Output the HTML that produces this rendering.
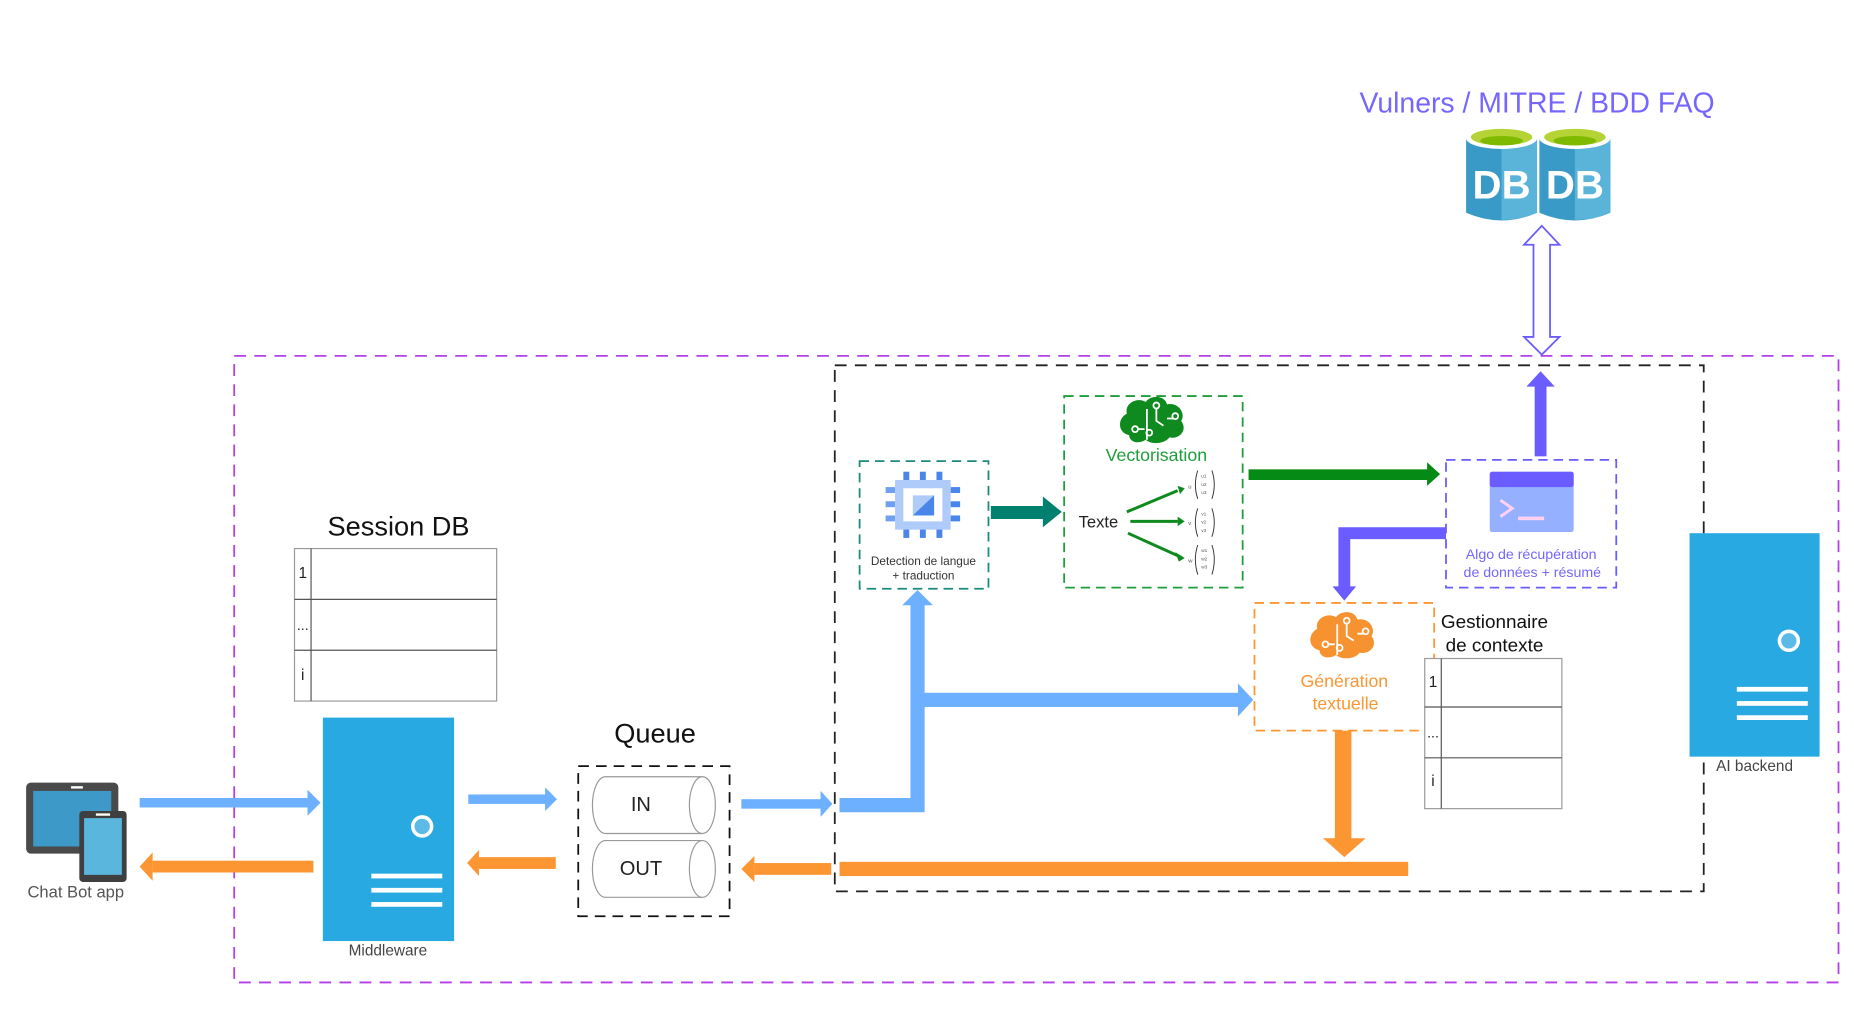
<!DOCTYPE html>
<html><head><meta charset="utf-8"><style>
html,body{margin:0;padding:0;background:#fff;width:1854px;height:1012px;overflow:hidden}
svg{display:block}
text{font-family:"Liberation Sans",sans-serif}
</style></head><body>
<svg width="1854" height="1012" viewBox="0 0 1568 856" xmlns="http://www.w3.org/2000/svg">
<defs>
<g id="brain">
 <path d="M-20,10 C-30,8 -30,-4 -22,-8 C-24,-18 -12,-22 -6,-18 C-2,-24 10,-24 12,-16 C22,-18 28,-8 24,-2 C30,6 22,14 14,12 C10,18 -2,18 -6,14 C-12,18 -20,16 -20,10Z"/>
</g>
</defs>
<!-- outer purple dashed -->
<rect x="198" y="301" width="1357" height="530" fill="none" stroke="#b23fe8" stroke-width="1.5" stroke-dasharray="10,7"/>
<!-- black dashed -->
<rect x="706" y="309" width="735" height="445" fill="none" stroke="#222" stroke-width="1.5" stroke-dasharray="10,7"/>

<!-- title -->
<text x="1300" y="95" font-size="24" fill="#7466ff" text-anchor="middle">Vulners / MITRE / BDD FAQ</text>
<!-- DBs -->
<g>
 <path d="M1240,117 L1240,180 Q1270,193 1300,180 L1300,117Z" fill="#3a9ac7"/>
 <path d="M1270,122 L1270,186 Q1286,186 1300,180 L1300,117Z" fill="#5ab4da"/>
 <ellipse cx="1270" cy="117" rx="30" ry="9" fill="#fff"/>
 <ellipse cx="1270" cy="116" rx="26" ry="7" fill="#b5d334"/>
 <ellipse cx="1270" cy="119" rx="18" ry="4" fill="#7fba00"/>
 <text x="1270" y="168" font-size="34" font-weight="bold" fill="#fff" text-anchor="middle">DB</text>
 <path d="M1302,117 L1302,180 Q1332,193 1362,180 L1362,117Z" fill="#3a9ac7"/>
 <path d="M1332,122 L1332,186 Q1348,186 1362,180 L1362,117Z" fill="#5ab4da"/>
 <ellipse cx="1332" cy="117" rx="30" ry="9" fill="#fff"/>
 <ellipse cx="1332" cy="116" rx="26" ry="7" fill="#b5d334"/>
 <ellipse cx="1332" cy="119" rx="18" ry="4" fill="#7fba00"/>
 <text x="1332" y="168" font-size="34" font-weight="bold" fill="#fff" text-anchor="middle">DB</text>
</g>
<!-- hollow double arrow -->
<path d="M1304,191 L1319,207 L1311,207 L1311,285 L1319,285 L1304,300 L1289,285 L1297,285 L1297,207 L1289,207Z" fill="#fff" stroke="#6a5cff" stroke-width="1.5"/>
<!-- purple up arrow -->
<rect x="1298" y="326" width="10" height="60" fill="#6a5cff"/>
<path d="M1291,327 L1303,314 L1315,327Z" fill="#6a5cff"/>

<!-- Session DB -->
<text x="337" y="453" font-size="23" fill="#111" text-anchor="middle">Session DB</text>
<rect x="249" y="464" width="171" height="129" fill="#fff" stroke="#999" stroke-width="1"/>
<line x1="249" y1="507" x2="420" y2="507" stroke="#555"/>
<line x1="249" y1="550" x2="420" y2="550" stroke="#555"/>
<line x1="263" y1="464" x2="263" y2="593" stroke="#555"/>
<text x="256" y="489" font-size="13" fill="#222" text-anchor="middle">1</text>
<text x="256" y="533" font-size="12" fill="#222" text-anchor="middle">...</text>
<text x="256" y="575" font-size="13" fill="#222" text-anchor="middle">i</text>

<!-- Middleware -->
<rect x="273" y="607" width="111" height="189" fill="#29a9e1"/>
<circle cx="357" cy="699" r="8" fill="#5bbbe6" stroke="#fff" stroke-width="3"/>
<rect x="314" y="739" width="60" height="4" fill="#fff"/>
<rect x="314" y="751" width="60" height="4" fill="#fff"/>
<rect x="314" y="763" width="60" height="4" fill="#fff"/>
<text x="328" y="808" font-size="13" fill="#444" text-anchor="middle">Middleware</text>

<!-- AI backend -->
<rect x="1429" y="451" width="110" height="189" fill="#29a9e1"/>
<circle cx="1513" cy="542" r="8" fill="#5bbbe6" stroke="#fff" stroke-width="3"/>
<rect x="1469" y="581" width="60" height="4" fill="#fff"/>
<rect x="1469" y="593" width="60" height="4" fill="#fff"/>
<rect x="1469" y="605" width="60" height="4" fill="#fff"/>
<text x="1484" y="652" font-size="13" fill="#444" text-anchor="middle">AI backend</text>

<!-- Chat bot device -->
<rect x="22" y="662" width="78" height="60" rx="4" fill="#4a4a4a"/>
<rect x="28" y="669" width="66" height="47" fill="#3d9ac8"/>
<rect x="60" y="665" width="10" height="2" fill="#fff"/>
<rect x="67" y="686" width="40" height="60" rx="3" fill="#3f3f3f"/>
<rect x="71" y="692" width="32" height="48" fill="#5ab6dc"/>
<rect x="81" y="688" width="12" height="2" fill="#fff"/>
<text x="64" y="759" font-size="14" fill="#555" text-anchor="middle">Chat Bot app</text>

<!-- arrows left -->
<rect x="118" y="675" width="144" height="8" fill="#6cb0ff"/>
<path d="M260,668 L271,679 L260,690Z" fill="#6cb0ff"/>
<rect x="129" y="728" width="136" height="10" fill="#fb9633"/>
<path d="M129,721 L118,733 L129,745Z" fill="#fb9633"/>
<rect x="396" y="672" width="66" height="8" fill="#6cb0ff"/>
<path d="M461,666 L471,676 L461,686Z" fill="#6cb0ff"/>
<rect x="404" y="725" width="66" height="10" fill="#fb9633"/>
<path d="M405,719 L395,730 L405,741Z" fill="#fb9633"/>

<!-- Queue -->
<text x="554" y="628" font-size="23" fill="#111" text-anchor="middle">Queue</text>
<rect x="489" y="648" width="128" height="127" fill="none" stroke="#111" stroke-width="1.5" stroke-dasharray="9,6"/>
<path d="M594,657 L512,657 A11,24 0 0 0 512,705 L594,705" fill="#fff" stroke="#999"/>
<ellipse cx="594" cy="681" rx="11" ry="24" fill="#fff" stroke="#999"/>
<text x="542" y="686" font-size="17" fill="#222" text-anchor="middle">IN</text>
<path d="M594,711 L512,711 A11,24 0 0 0 512,759 L594,759" fill="#fff" stroke="#999"/>
<ellipse cx="594" cy="735" rx="11" ry="24" fill="#fff" stroke="#999"/>
<text x="542" y="740" font-size="17" fill="#222" text-anchor="middle">OUT</text>

<rect x="627" y="676" width="68" height="8" fill="#6cb0ff"/>
<path d="M694,669 L704,680 L694,691Z" fill="#6cb0ff"/>
<rect x="638" y="730" width="65" height="10" fill="#fb9633"/>
<path d="M638,724 L627,735 L638,746Z" fill="#fb9633"/>

<!-- blue thick path -->
<path d="M710,681 L776,681 L776,510" fill="none" stroke="#6cb0ff" stroke-width="12"/>
<path d="M763,512 L776,499 L789,512Z" fill="#6cb0ff"/>
<rect x="776" y="586" width="272" height="12" fill="#6cb0ff"/>
<path d="M1047,578 L1060,592 L1047,606Z" fill="#6cb0ff"/>

<!-- orange bar -->
<rect x="710" y="729" width="481" height="12" fill="#fb9633"/>
<rect x="1129" y="618" width="14" height="92" fill="#fb9633"/>
<path d="M1119,709 L1137,725 L1155,709Z" fill="#fb9633"/>

<!-- Detection box -->
<rect x="727" y="390" width="109" height="108" fill="none" stroke="#1a8a7a" stroke-width="1.5" stroke-dasharray="8,5"/>
<g>
 <rect x="764" y="399" width="5" height="8" fill="#4a86ea"/><rect x="778" y="399" width="5" height="8" fill="#4a86ea"/><rect x="792" y="399" width="5" height="8" fill="#4a86ea"/>
 <rect x="764" y="447" width="5" height="8" fill="#4a86ea"/><rect x="778" y="447" width="5" height="8" fill="#4a86ea"/><rect x="792" y="447" width="5" height="8" fill="#4a86ea"/>
 <rect x="749" y="412" width="8" height="5" fill="#6fa0f0"/><rect x="749" y="424" width="8" height="5" fill="#6fa0f0"/><rect x="749" y="436" width="8" height="5" fill="#6fa0f0"/>
 <rect x="804" y="412" width="8" height="5" fill="#4a86ea"/><rect x="804" y="424" width="8" height="5" fill="#4a86ea"/><rect x="804" y="436" width="8" height="5" fill="#4a86ea"/>
 <rect x="757" y="406" width="47" height="42" fill="#aecbfa"/>
 <rect x="764" y="413" width="33" height="28" fill="#fff"/>
 <rect x="772" y="419" width="18" height="17" fill="#aecbfa"/>
 <path d="M790,419 L790,436 L772,436Z" fill="#4a86ea"/>
</g>
<text x="781" y="478" font-size="10" fill="#333" text-anchor="middle">Detection de langue</text>
<text x="781" y="490" font-size="10" fill="#333" text-anchor="middle">+ traduction</text>

<rect x="838" y="428" width="46" height="11" fill="#00806f"/>
<path d="M882,420 L898,433 L882,446Z" fill="#00806f"/>

<!-- Vectorisation -->
<rect x="900" y="335" width="151" height="162" fill="none" stroke="#1e9e3a" stroke-width="1.5" stroke-dasharray="8,5"/>
<use href="#brain" transform="translate(975,358) scale(1.0)" fill="#0e8a1e"/>
<g stroke="#fff" stroke-width="1.5" fill="none"><path d="M970,346 L970,372 M978,345 L978,356 L984,360 M962,363 L968,363 M987,354 L993,354"/><circle cx="978" cy="343" r="2.5"/><circle cx="960" cy="363" r="2.5"/><circle cx="972" cy="366" r="2.5"/><circle cx="994" cy="352" r="2.5"/></g>
<text x="978" y="390" font-size="15" fill="#1e9e3a" text-anchor="middle">Vectorisation</text>
<text x="929" y="446" font-size="14" fill="#222" text-anchor="middle">Texte</text>
<g stroke="#0e8a1e" stroke-width="2.5"><line x1="953" y1="433" x2="996" y2="415"/><line x1="956" y1="441" x2="996" y2="441"/><line x1="954" y1="451" x2="996" y2="470"/></g>
<path d="M996,411 L1002,413 L998,418Z M996,437 L1002,441 L996,445Z M994,467 L1002,472 L997,475Z" fill="#0e8a1e"/>
<g font-size="5" fill="#555"><text x="1005" y="413">u</text><text x="1005" y="444">v</text><text x="1005" y="476">w</text></g>
<g fill="none" stroke="#333" stroke-width="0.8">
 <path d="M1013,398 Q1009,410 1013,422 M1025,398 Q1029,410 1025,422"/>
 <path d="M1013,430 Q1009,442 1013,454 M1025,430 Q1029,442 1025,454"/>
 <path d="M1013,461 Q1009,473 1013,486 M1025,461 Q1029,473 1025,486"/>
</g>
<g font-size="4" fill="#555"><text x="1016" y="404">u1</text><text x="1016" y="411">u2</text><text x="1016" y="418">u3</text><text x="1016" y="436">v1</text><text x="1016" y="443">v2</text><text x="1016" y="450">v3</text><text x="1016" y="467">w1</text><text x="1016" y="474">w2</text><text x="1016" y="481">w3</text></g>

<!-- green arrow -->
<rect x="1056" y="397" width="152" height="9" fill="#058a16"/>
<path d="M1207,391 L1218,401 L1207,411Z" fill="#058a16"/>

<!-- Algo box -->
<rect x="1223" y="389" width="144" height="108" fill="none" stroke="#6a5cff" stroke-width="1.5" stroke-dasharray="8,5"/>
<rect x="1260" y="399" width="71" height="51" rx="2" fill="#95b0ff"/>
<rect x="1260" y="399" width="71" height="13" rx="2" fill="#6a5cff"/>
<path d="M1269,423 L1279,430 L1269,437" fill="none" stroke="#ffd0f0" stroke-width="2.5"/>
<rect x="1284" y="437" width="22" height="3" fill="#ffd0f0"/>
<text x="1295" y="473" font-size="12" fill="#7466ff" text-anchor="middle">Algo de récupération</text>
<text x="1296" y="488" font-size="12" fill="#7466ff" text-anchor="middle">de données + résumé</text>

<!-- purple L arrow -->
<path d="M1223,451 L1137,451 L1137,497" fill="none" stroke="#6a5cff" stroke-width="10"/>
<path d="M1127,496 L1137,508 L1147,496Z" fill="#6a5cff"/>

<!-- Generation box -->
<rect x="1061" y="510" width="152" height="108" fill="none" stroke="#fb9633" stroke-width="1.5" stroke-dasharray="8,5"/>
<use href="#brain" transform="translate(1136,540) scale(1.0)" fill="#f6922f"/>
<g stroke="#fff" stroke-width="1.5" fill="none"><path d="M1131,528 L1131,554 M1139,527 L1139,538 L1145,542 M1123,545 L1129,545 M1148,536 L1154,536"/><circle cx="1139" cy="525" r="2.5"/><circle cx="1121" cy="545" r="2.5"/><circle cx="1133" cy="548" r="2.5"/><circle cx="1155" cy="534" r="2.5"/></g>
<text x="1137" y="581" font-size="15" fill="#fb9633" text-anchor="middle">Génération</text>
<text x="1138" y="600" font-size="15" fill="#fb9633" text-anchor="middle">textuelle</text>

<!-- Gestionnaire -->
<text x="1264" y="531" font-size="16" fill="#111" text-anchor="middle">Gestionnaire</text>
<text x="1264" y="551" font-size="16" fill="#111" text-anchor="middle">de contexte</text>
<rect x="1205" y="557" width="116" height="127" fill="#fff" stroke="#999"/>
<line x1="1205" y1="598" x2="1321" y2="598" stroke="#555"/>
<line x1="1205" y1="641" x2="1321" y2="641" stroke="#555"/>
<line x1="1219" y1="557" x2="1219" y2="684" stroke="#555"/>
<text x="1212" y="581" font-size="13" fill="#222" text-anchor="middle">1</text>
<text x="1212" y="624" font-size="12" fill="#222" text-anchor="middle">...</text>
<text x="1212" y="665" font-size="13" fill="#222" text-anchor="middle">i</text>
</svg>
</body></html>
